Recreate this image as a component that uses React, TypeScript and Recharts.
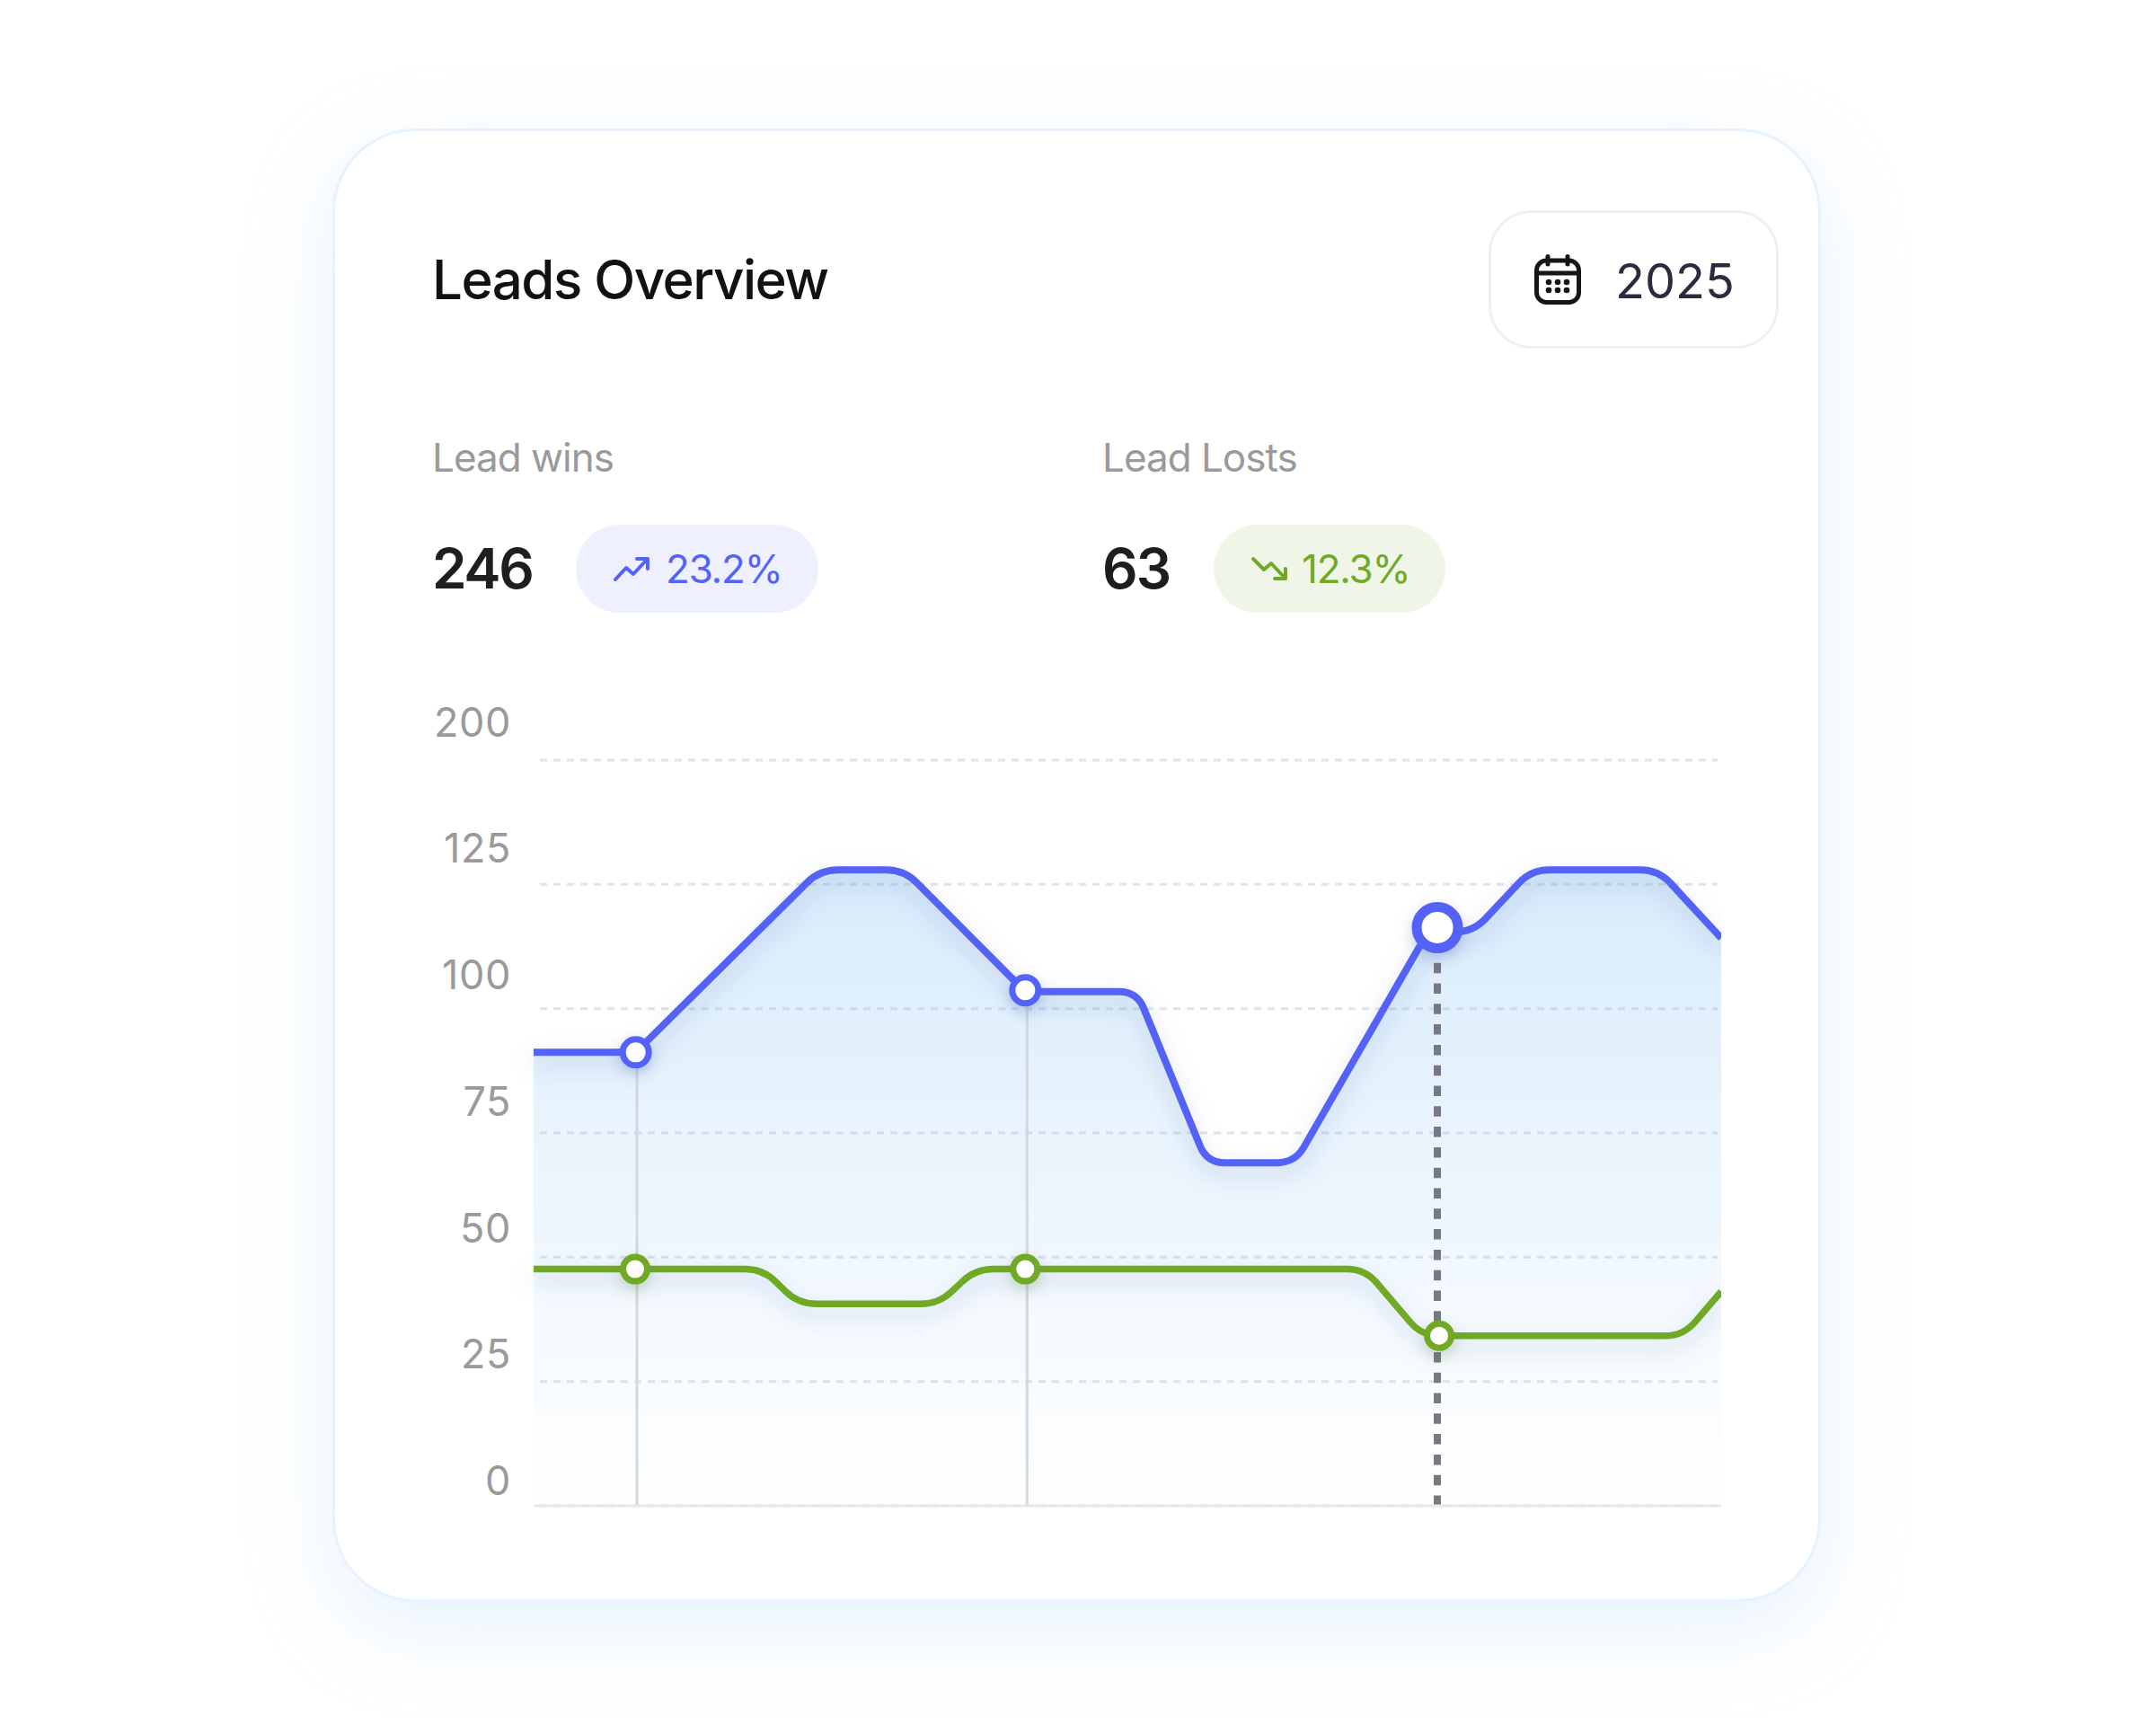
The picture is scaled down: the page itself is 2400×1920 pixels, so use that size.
import { Area, CartesianGrid, ComposedChart, Line, ReferenceLine, XAxis, YAxis } from "recharts";

const winsX = [0, 8.6, 24.1, 31.2, 41.4, 50.8, 56.7, 64.1, 75.3, 79.1, 84.0, 94.7, 100];
const winsY = [91.2, 91.2, 127.9, 127.9, 103.4, 103.4, 69, 69, 115.4, 115.4, 127.9, 127.9, 114.2];
const lostsX = [0, 19.3, 22.3, 34.1, 37.2, 70.0, 74.8, 96.8, 100];
const lostsY = [47.6, 47.6, 40.6, 40.6, 47.6, 47.6, 34.2, 34.2, 43.1];

const winsMarkerX = [8.6, 41.4, 76.1];
const lostsMarkerX = [8.55, 41.4, 76.25];
const markerWins = [91.2, 103.7, 116.3];
const markerLosts = [47.6, 47.6, 34.2];
const guideX = [8.7, 41.55, 76.1];

const yTicks = [0, 25, 50, 75, 100, 125, 150];
const yLabels = ["0", "25", "50", "75", "100", "125", "200"];

const FONT = "Inter, 'Liberation Sans', sans-serif";
const BLUE = "#5562f8";
const GREEN = "#70a924";
const LINE_SHADOW = "drop-shadow(0 10px 12px rgba(70,100,170,.28))";

const toRows = (xs: number[], ys: number[]) => xs.map((x, i) => ({ x, y: ys[i] }));

// straight segments with rounded corners, the lib takes any d3 style curve factory
const roundedCurve = (radius: number) => (context: any) => {
  let inArea = false;
  let part = 0;
  let pts: number[][] = [];
  return {
    areaStart() {
      inArea = true;
      part = 0;
    },
    areaEnd() {
      inArea = false;
    },
    lineStart() {
      pts = [];
    },
    point(x: number, y: number) {
      pts.push([x, y]);
    },
    lineEnd() {
      pts.forEach(([x, y], i) => {
        if (i === 0) {
          if (inArea && part > 0) context.lineTo(x, y);
          else context.moveTo(x, y);
          return;
        }
        if (i === pts.length - 1) {
          context.lineTo(x, y);
          return;
        }
        const [px, py] = pts[i - 1];
        const [nx, ny] = pts[i + 1];
        const a = Math.hypot(px - x, py - y);
        const b = Math.hypot(nx - x, ny - y);
        if (a === 0 || b === 0) {
          context.lineTo(x, y);
          return;
        }
        const r = Math.min(radius, a / 2, b / 2);
        context.lineTo(x + ((px - x) / a) * r, y + ((py - y) / a) * r);
        context.quadraticCurveTo(x, y, x + ((nx - x) / b) * r, y + ((ny - y) / b) * r);
      });
      if (inArea && part === 1) context.closePath();
      part += 1;
    },
  };
};

const curve = roundedCurve(20);

function GridRow({ x1, x2, y1, y2, key: _key, ...rest }: any) {
  return <line {...rest} x1={x1 + 7} x2={x2 - 4} y1={y1} y2={y2} />;
}

function YTick({ x, y, payload, index }: any) {
  const i = yTicks.indexOf(payload.value);
  return (
    <text
      key={index}
      x={x}
      y={y - 28.5 - i * 2.4}
      textAnchor="end"
      dominantBaseline="central"
      fontFamily={FONT}
      fontSize={45}
      fill="#9a9a9c"
      letterSpacing={0.6}
    >
      {yLabels[i]}
    </text>
  );
}

function winsDot({ cx, cy, index }: any) {
  const big = index === 2;
  return (
    <circle
      key={index}
      cx={cx}
      cy={cy}
      r={big ? 23 : 14.5}
      fill="#fff"
      stroke={BLUE}
      strokeWidth={big ? 11 : 7}
      style={{ filter: "drop-shadow(0 6px 8px rgba(70,100,180,.3))" }}
    />
  );
}

function lostsDot({ cx, cy, index }: any) {
  return (
    <circle
      key={index}
      cx={cx}
      cy={cy}
      r={13.5}
      fill="#fff"
      stroke={GREEN}
      strokeWidth={7}
      style={{ filter: "drop-shadow(0 6px 8px rgba(90,130,60,.28))" }}
    />
  );
}

function Pill({ left, width, bg, color, label, up }: any) {
  return (
    <div
      style={{
        position: "absolute",
        left,
        top: 584,
        width,
        height: 98,
        borderRadius: 49,
        background: bg,
        color,
        fontSize: 44,
        letterSpacing: -1.2,
      }}
    >
      <svg
        style={{ position: "absolute", left: 41, top: 34 }}
        width={42}
        height={30}
        viewBox="0 0 42 30"
        fill="none"
        stroke={color}
        strokeWidth={4}
        strokeLinecap="round"
        strokeLinejoin="round"
      >
        {up ? (
          <>
            <path d="M3 27 L15 14 L23 21 L38 5" />
            <path d="M27 4 H39 V15" />
          </>
        ) : (
          <>
            <path d="M3 4 L15 16 L23 9 L38 25" />
            <path d="M27 26 H39 V15" />
          </>
        )}
      </svg>
      <span style={{ position: "absolute", left: up ? 100 : 98, top: 0, lineHeight: "98px" }}>{label}</span>
    </div>
  );
}

function Text({ left, top, size, color, weight, spacing, children }: any) {
  return (
    <div
      style={{
        position: "absolute",
        left,
        top: top - 50,
        height: 100,
        lineHeight: "100px",
        fontSize: size,
        color,
        fontWeight: weight ?? 400,
        letterSpacing: spacing ?? 0,
        whiteSpace: "nowrap",
      }}
    >
      {children}
    </div>
  );
}

export default function App() {
  return (
    <div style={{ position: "absolute", left: 0, top: 0, width: 2400, height: 1920, background: "#fff", overflow: "hidden", fontFamily: FONT }}>
      <div
        style={{
          position: "absolute",
          left: 370,
          top: 143,
          width: 1657,
          height: 1640,
          boxSizing: "border-box",
          borderRadius: 92,
          background: "#fff",
          border: "3px solid #e6f2fd",
          boxShadow: "0 30px 90px rgba(185,220,250,.34)",
        }}
      />
      <Text left={481} top={311} size={60} color="#111114" weight={500} spacing={-1.5}>Leads Overview</Text>

      <div
        style={{
          position: "absolute",
          left: 1657,
          top: 234,
          width: 323,
          height: 154,
          boxSizing: "border-box",
          border: "3px solid #f0f0f2",
          borderRadius: 48,
        }}
      />
      <svg style={{ position: "absolute", left: 1708, top: 283 }} width={52} height={56} viewBox="0 0 52 56" fill="none" stroke="#15151a" strokeWidth={5} strokeLinecap="round">
        <rect x={2.5} y={7} width={47} height={46.5} rx={11} />
        <path d="M3 21 H49 M15 2.5 V11 M37 2.5 V11" />
        <g fill="#15151a" stroke="none">
          {[16, 26, 36].map((cx) => (
            <g key={cx}>
              <circle cx={cx} cy={31} r={3.3} />
              <circle cx={cx} cy={40} r={3.3} />
            </g>
          ))}
        </g>
      </svg>
      <Text left={1798} top={313} size={54} color="#2b2a3f">2025</Text>

      <Text left={481} top={509} size={44} color="#9a9a9c" spacing={-1}>Lead wins</Text>
      <Text left={1227} top={509} size={44} color="#9a9a9c" spacing={-1}>Lead Losts</Text>
      <Text left={481} top={633} size={62} color="#1e1e21" weight={600} spacing={-2.4}>246</Text>
      <Text left={1227} top={633} size={62} color="#1e1e21" weight={600} spacing={-2}>63</Text>
      <Pill left={641} width={270} bg="#eef0fe" color={BLUE} label="23.2%" up />
      <Pill left={1351} width={258} bg="#eff6e8" color={GREEN} label="12.3%" />

      <div style={{ position: "absolute", left: 470, top: 786 }}>
        <ComposedChart width={1446} height={900} margin={{ top: 60, right: 0, bottom: 0, left: 0 }}>
          <defs>
            <linearGradient id="winsFill" x1="0" y1="0" x2="0" y2="1">
              <stop offset="0%" stopColor="#62aeee" stopOpacity={0.42} />
              <stop offset="55%" stopColor="#7cbdf5" stopOpacity={0.22} />
              <stop offset="100%" stopColor="#a8d0f5" stopOpacity={0.01} />
            </linearGradient>
          </defs>
          <CartesianGrid vertical={false} stroke="#e2e3e6" strokeWidth={3} strokeDasharray="8 7" horizontal={GridRow as any} />
          <XAxis dataKey="x" type="number" domain={[0, 100]} height={10} tick={false} tickLine={false} axisLine={{ stroke: "#e8e8ea", strokeWidth: 3 }} />
          <YAxis width={124} domain={[0, 150]} ticks={yTicks} interval={0} tickSize={0} tickMargin={25} axisLine={false} tick={<YTick />} />
          <Area data={toRows(winsX, winsY)} dataKey="y" type={curve as any} stroke="none" fill="url(#winsFill)" isAnimationActive={false} />
          <ReferenceLine segment={[{ x: guideX[0], y: 0 }, { x: guideX[0], y: markerWins[0] }]} stroke="#d3d8de" strokeWidth={3} />
          <ReferenceLine segment={[{ x: guideX[1], y: 0 }, { x: guideX[1], y: markerWins[1] }]} stroke="#d3d8de" strokeWidth={3} />
          <ReferenceLine segment={[{ x: guideX[2], y: 0 }, { x: guideX[2], y: markerWins[2] }]} stroke="#77797e" strokeWidth={8} strokeDasharray="11.5 11.3" />
          <Line data={toRows(lostsX, lostsY)} dataKey="y" type={curve as any} stroke={GREEN} strokeWidth={7.5} dot={false} style={{ filter: LINE_SHADOW }} isAnimationActive={false} />
          <Line data={toRows(winsX, winsY)} dataKey="y" type={curve as any} stroke={BLUE} strokeWidth={8} dot={false} style={{ filter: LINE_SHADOW }} isAnimationActive={false} />
          <Line data={toRows(winsMarkerX, markerWins)} dataKey="y" stroke="none" dot={winsDot} isAnimationActive={false} />
          <Line data={toRows(lostsMarkerX, markerLosts)} dataKey="y" stroke="none" dot={lostsDot} isAnimationActive={false} />
        </ComposedChart>
      </div>
    </div>
  );
}
